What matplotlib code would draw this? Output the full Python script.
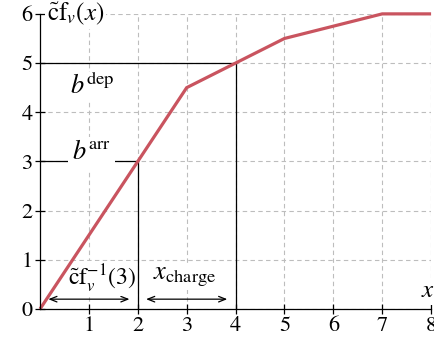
import matplotlib
matplotlib.use("Agg")
import matplotlib.pyplot as plt

plt.rcParams["mathtext.fontset"] = "stix"
plt.rcParams["font.family"] = "STIXGeneral"

# piecewise-linear charging function
x_vals = [0, 2, 3, 4, 5, 7, 8]
y_vals = [0, 3, 4.5, 5, 5.5, 6, 6]
x_ticks = [1, 2, 3, 4, 5, 6, 7, 8]
y_ticks = [0, 1, 2, 3, 4, 5, 6]
b_arr = 3
b_dep = 5
x_arr = 2
x_dep = 4

line_color = "#c9545f"

fig = plt.figure(figsize=(4.35, 3.47), dpi=100)
ax = fig.add_axes([0.092, 0.1095, 0.899, 0.8505])
ax.set_xlim(0, 8)
ax.set_ylim(0, 6)

for s in ("top", "right"):
    ax.spines[s].set_visible(False)
for s in ("left", "bottom"):
    ax.spines[s].set_linewidth(0.9)
    ax.spines[s].set_zorder(6)

ax.set_xticks(x_ticks)
ax.set_yticks(y_ticks)
ax.tick_params(direction="inout", length=7, width=0.9, labelsize=16, pad=2)
ax.grid(True, color="#bdbdbd", linestyle=(0, (4, 3)), linewidth=0.8)
ax.set_axisbelow(True)

# guide lines
ax.plot([0, x_dep], [b_dep, b_dep], color="black", lw=0.9, zorder=3)
ax.plot([x_dep, x_dep], [0, b_dep], color="black", lw=0.9, zorder=3)
ax.plot([0, x_arr], [b_arr, b_arr], color="black", lw=0.9, zorder=3)
ax.plot([x_arr, x_arr], [0, b_arr], color="black", lw=0.9, zorder=3)

ax.plot(x_vals, y_vals, color=line_color, lw=2.3, zorder=5, clip_on=False,
        solid_capstyle="butt", solid_joinstyle="miter")

box = dict(facecolor="white", edgecolor="none", pad=1.0)
ax.text(1.08, 4.52, r"$b^{\mathrm{dep}}$", fontsize=19, ha="center", va="center",
        bbox=box, zorder=4)
ax.text(1.05, 3.04, r"$b^{\mathrm{arr}}$", fontsize=19, ha="center", va="baseline",
        bbox=dict(facecolor="white", edgecolor="none", pad=3.0), zorder=4)

# interval arrows
arrow_y = 0.2
ax.annotate("", xy=(0.17, arrow_y), xytext=(1.83, arrow_y),
            arrowprops=dict(arrowstyle="<->,head_length=0.5,head_width=0.2",
                            color="black", lw=0.9, shrinkA=0, shrinkB=0), zorder=4)
ax.annotate("", xy=(2.17, arrow_y), xytext=(3.83, arrow_y),
            arrowprops=dict(arrowstyle="<->,head_length=0.5,head_width=0.2",
                            color="black", lw=0.9, shrinkA=0, shrinkB=0), zorder=4)
ax.text(1.27, 0.62, r"$\tilde{\mathrm{c}}\mathrm{f}_{v}^{-1}(3)$", fontsize=17,
        ha="center", va="center", bbox=box, zorder=4)
ax.text(2.95, 0.66, r"$x_{\mathrm{charge}}$", fontsize=19,
        ha="center", va="center", bbox=box, zorder=4)

# axis labels
ax.text(0.14, 6.0, r"$\tilde{\mathrm{c}}\mathrm{f}_{v}(x)$", fontsize=18,
        ha="left", va="center", bbox=box, zorder=4, clip_on=False)
ax.text(7.94, 0.12, r"$x$", fontsize=18, ha="center", va="bottom",
        bbox=box, zorder=4, clip_on=False)

fig.savefig("out.png", dpi=100)
